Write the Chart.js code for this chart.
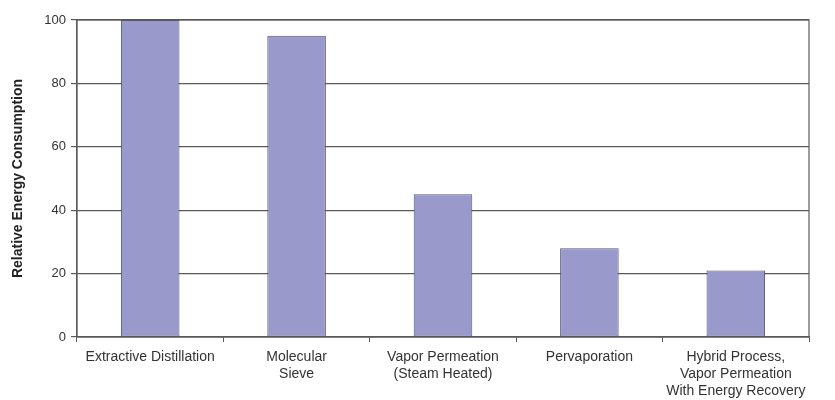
<!DOCTYPE html>
<html>
<head>
<meta charset="utf-8">
<script src="https://cdn.jsdelivr.net/npm/chart.js@4/dist/chart.umd.min.js"></script>
<style>
  html, body { margin: 0; padding: 0; background: #fff; }
  #wrap { width: 835px; height: 400px; }
</style>
</head>
<body>
<div id="wrap"><canvas id="energyChart"></canvas></div>
<script>
const processes = [
    'Extractive Distillation',
    ['Molecular', 'Sieve'],
    ['Vapor Permeation', '(Steam Heated)'],
    'Pervaporation',
    ['Hybrid Process,', 'Vapor Permeation', 'With Energy Recovery']
];
const relativeEnergy = [100, 95, 45, 28, 21];
const yTicks = [0, 20, 40, 60, 80, 100];

// draws the box round the plot area (top and right edges)
const frameBox = {
    id: 'frameBox',
    afterDatasetsDraw(chart) {
        const { ctx, chartArea: a } = chart;
        ctx.save();
        ctx.strokeStyle = '#5a5a5a';
        ctx.lineWidth = 1.2;
        ctx.strokeRect(a.left, a.top, a.right - a.left, a.bottom - a.top);
        ctx.restore();
    }
};

Chart.defaults.font.family = '"Liberation Sans", Arial, sans-serif';

new Chart(document.getElementById('energyChart').getContext('2d'), {
    type: 'bar',
    data: {
        labels: processes,
        datasets: [{
            label: 'Relative Energy Consumption',
            data: relativeEnergy,
            backgroundColor: '#9999cc',
            borderColor: '#55557a',
            borderWidth: 1,
            borderSkipped: false,
            categoryPercentage: 1,
            barPercentage: 0.4
        }]
    },
    options: {
        responsive: true,
        maintainAspectRatio: false,
        animation: false,
        layout: { padding: { top: 20, right: 26, left: 0, bottom: 0 } },
        plugins: {
            legend: { display: false },
            tooltip: { enabled: false }
        },
        scales: {
            x: {
                grid: { drawOnChartArea: false, drawTicks: true, tickLength: 5, color: '#5a5a5a', offset: true },
                border: { color: '#5a5a5a', width: 1.2 },
                ticks: { color: '#333', font: { size: 14, lineHeight: 1.2 }, maxRotation: 0, autoSkip: false, padding: 7 },
                afterFit(scale) { scale.height = 63; }
            },
            y: {
                min: 0,
                max: 100,
                afterBuildTicks(scale) { scale.ticks = yTicks.map(v => ({ value: v })); },
                grid: { color: '#5a5a5a', lineWidth: 1.2, tickLength: 6 },
                border: { color: '#5a5a5a', width: 1.2 },
                ticks: { color: '#333', font: { size: 13 }, padding: 5 },
                title: {
                    display: true,
                    text: 'Relative Energy Consumption',
                    color: '#222',
                    font: { size: 14, weight: 'bold' },
                    padding: { top: 10, bottom: 6 }
                },
                afterFit(scale) { scale.width = 77; }
            }
        }
    },
    plugins: [frameBox]
});
</script>
</body>
</html>
